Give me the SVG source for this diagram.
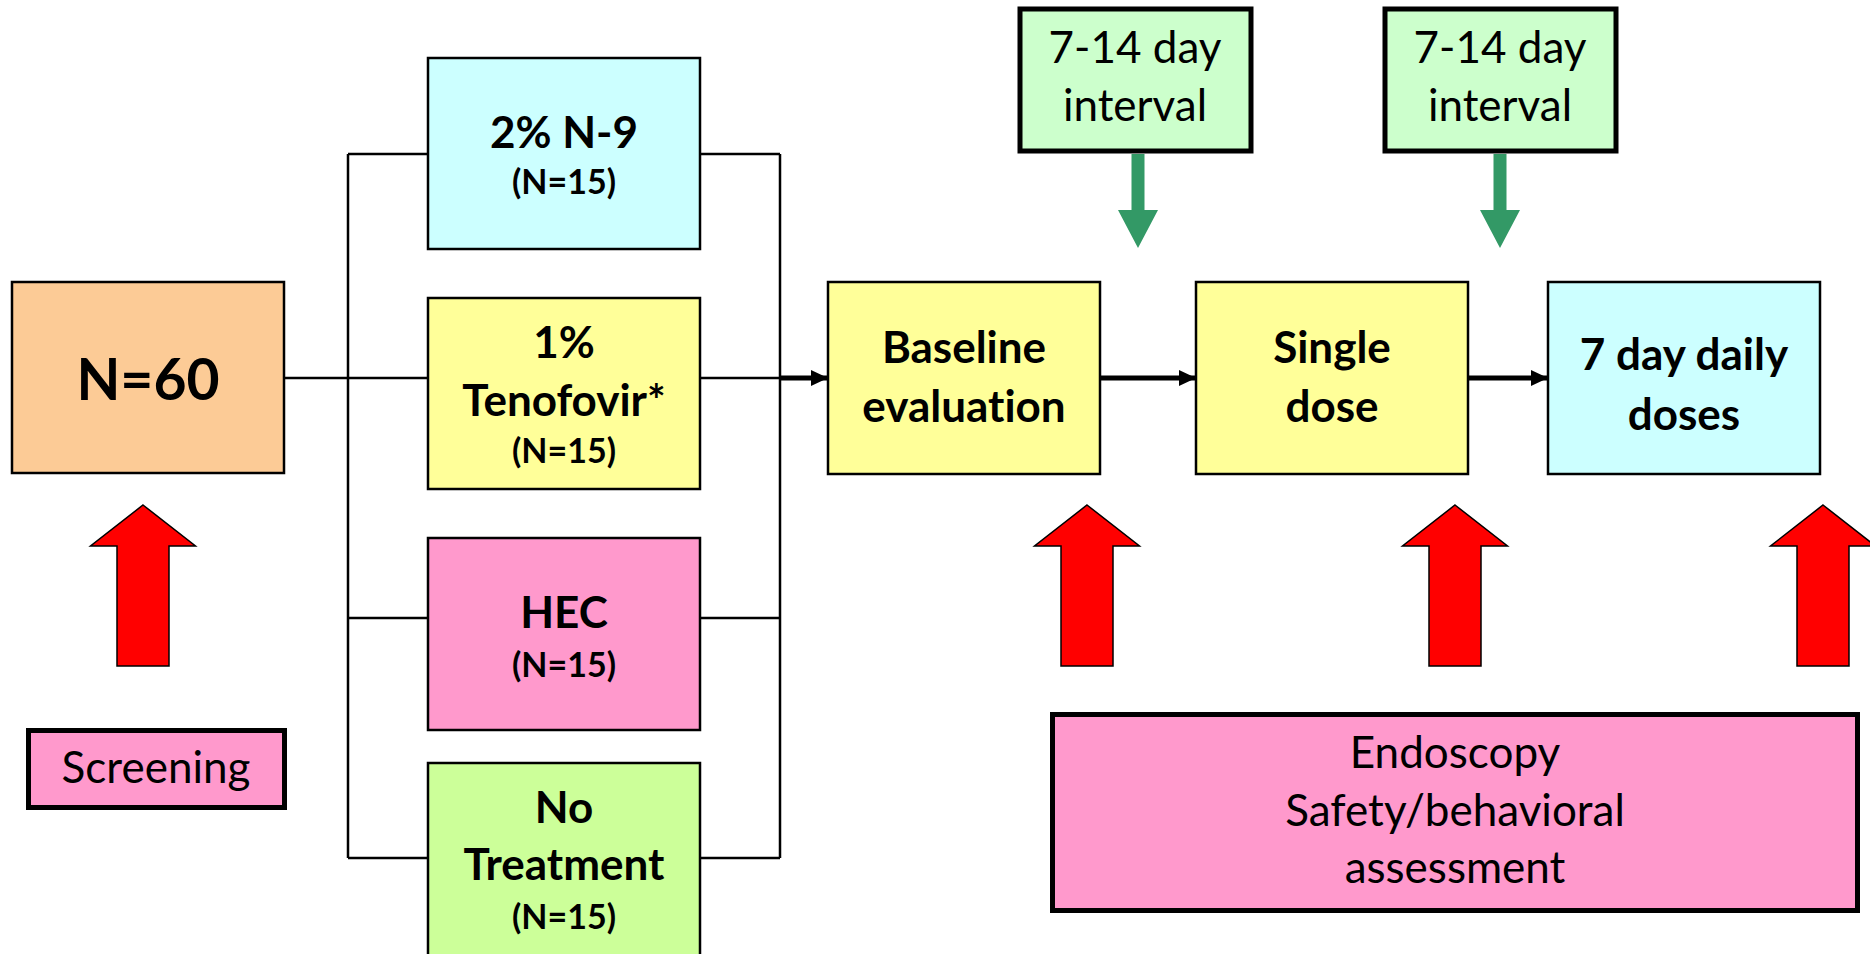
<svg xmlns="http://www.w3.org/2000/svg" width="1870" height="954" viewBox="0 0 1870 954">
<style>
text{font-variant-ligatures:none}
.box{stroke:#000;stroke-width:2.5}
.thick{stroke:#000;stroke-width:5}
.b{font-family:Lato,"Liberation Sans",sans-serif;font-weight:bold;font-size:44px;text-anchor:middle;fill:#000}
.s{font-family:Lato,"Liberation Sans",sans-serif;font-weight:bold;font-size:34px;text-anchor:middle;fill:#000}
.r{font-family:Lato,"Liberation Sans",sans-serif;font-size:44px;text-anchor:middle;fill:#000}
.ln{stroke:#000;stroke-width:2.5;fill:none}
.ar{stroke:#000;stroke-width:5;fill:none;marker-end:url(#ah)}
.red{fill:#FF0000;stroke:#000;stroke-width:1.5}
.grn{fill:#339966}
</style>
<defs>
<marker id="ah" markerUnits="userSpaceOnUse" markerWidth="18" markerHeight="16" refX="17" refY="8" orient="auto">
<path d="M0,0 L17,8 L0,16 Z" fill="#000"/>
</marker>
</defs>
<rect width="1870" height="954" fill="#fff"/>

<g id="connectors">
<line class="ln" x1="284" y1="378" x2="428" y2="378"/>
<line class="ln" x1="348" y1="154" x2="348" y2="858"/>
<line class="ln" x1="348" y1="154" x2="428" y2="154"/>
<line class="ln" x1="348" y1="618" x2="428" y2="618"/>
<line class="ln" x1="348" y1="858" x2="428" y2="858"/>
<line class="ln" x1="780" y1="154" x2="780" y2="858"/>
<line class="ln" x1="700" y1="154" x2="780" y2="154"/>
<line class="ln" x1="700" y1="378" x2="780" y2="378"/>
<line class="ln" x1="700" y1="618" x2="780" y2="618"/>
<line class="ln" x1="700" y1="858" x2="780" y2="858"/>
<line class="ar" x1="780" y1="378" x2="828" y2="378"/>
<line class="ar" x1="1100" y1="378" x2="1196" y2="378"/>
<line class="ar" x1="1468" y1="378" x2="1548" y2="378"/>
<polygon class="grn" points="1131.5,154 1144.5,154 1144.5,210 1158,210 1138,248 1118,210 1131.5,210"/>
<polygon class="grn" points="1493.5,154 1506.5,154 1506.5,210 1520,210 1500,248 1480,210 1493.5,210"/>
<polygon class="red" points="143,505 195.5,546 169,546 169,666 117,666 117,546 90.5,546"/>
<polygon class="red" points="1087,505 1139.5,546 1113,546 1113,666 1061,666 1061,546 1034.5,546"/>
<polygon class="red" points="1455,505 1507.5,546 1481,546 1481,666 1429,666 1429,546 1402.5,546"/>
<polygon class="red" points="1823,505 1875.5,546 1849,546 1849,666 1797,666 1797,546 1770.5,546"/>
</g>

<g id="n60">
<rect class="box" x="12" y="282" width="272" height="191" fill="#FCCB96"/>
<text class="b" x="148" y="400" style="font-size:57px">N=60</text>
</g>
<g id="n9">
<rect class="box" x="428" y="58" width="272" height="191" fill="#CCFFFF"/>
<text class="b" x="564" y="148">2% N-9</text>
<text class="s" x="564" y="194">(N=15)</text>
</g>
<g id="tenofovir">
<rect class="box" x="428" y="298" width="272" height="191" fill="#FFFF99"/>
<text class="b" x="564" y="358">1%</text>
<text class="b" x="564" y="416">Tenofovir*</text>
<text class="s" x="564" y="463">(N=15)</text>
</g>
<g id="hec">
<rect class="box" x="428" y="538" width="272" height="192" fill="#FF99CC"/>
<text class="b" x="564" y="628">HEC</text>
<text class="s" x="564" y="677">(N=15)</text>
</g>
<g id="notreatment">
<rect class="box" x="428" y="763" width="272" height="230" fill="#CCFF99"/>
<text class="b" x="564" y="823">No</text>
<text class="b" x="564" y="880">Treatment</text>
<text class="s" x="564" y="929">(N=15)</text>
</g>
<g id="baseline">
<rect class="box" x="828" y="282" width="272" height="192" fill="#FFFF99"/>
<text class="b" x="964" y="363">Baseline</text>
<text class="b" x="964" y="422">evaluation</text>
</g>
<g id="single">
<rect class="box" x="1196" y="282" width="272" height="192" fill="#FFFF99"/>
<text class="b" x="1332" y="363">Single</text>
<text class="b" x="1332" y="422">dose</text>
</g>
<g id="daily">
<rect class="box" x="1548" y="282" width="272" height="192" fill="#CCFFFF"/>
<text class="b" x="1684" y="370">7 day daily</text>
<text class="b" x="1684" y="430">doses</text>
</g>
<g id="interval1">
<rect class="thick" x="1020" y="9" width="231" height="142" fill="#CCFFCC"/>
<text class="r" x="1135" y="63">7-14 day</text>
<text class="r" x="1135" y="121">interval</text>
</g>
<g id="interval2">
<rect class="thick" x="1385" y="9" width="231" height="142" fill="#CCFFCC"/>
<text class="r" x="1500" y="63">7-14 day</text>
<text class="r" x="1500" y="121">interval</text>
</g>
<g id="screening">
<rect class="thick" x="28.5" y="730.5" width="256" height="77" fill="#FF99CC"/>
<text class="r" x="156" y="783">Screening</text>
</g>
<g id="endoscopy">
<rect class="thick" x="1052.5" y="714.5" width="805" height="196" fill="#FF99CC"/>
<text class="r" x="1455" y="768">Endoscopy</text>
<text class="r" x="1455" y="826">Safety/behavioral</text>
<text class="r" x="1455" y="883">assessment</text>
</g>
</svg>
